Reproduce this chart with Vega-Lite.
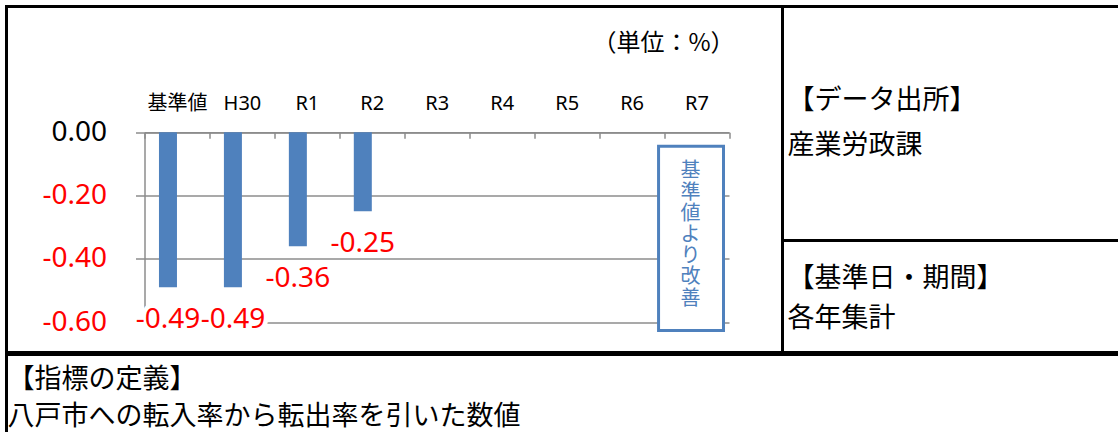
{
  "$schema": "https://vega.github.io/schema/vega-lite/v6.json",
  "padding": {"left": 4.5, "top": 4.5, "right": -12, "bottom": -10},
  "background": "white",
  "spacing": -3,
  "config": {
    "view": {"stroke": "black", "strokeWidth": 3},
    "font": "Noto Sans CJK JP",
    "concat": {"spacing": 0}
  },
  "datasets": {
    "rate": [
      {"year": "基準値", "value": -0.49},
      {"year": "H30", "value": -0.49},
      {"year": "R1", "value": -0.36},
      {"year": "R2", "value": -0.25}
    ],
    "source": [
      {"line": "【データ出所】"},
      {"line": "産業労政課"}
    ],
    "period": [
      {"line": "【基準日・期間】"},
      {"line": "各年集計"}
    ],
    "definition": [
      {"line": "【指標の定義】"},
      {"line": "八戸市への転入率から転出率を引いた数値"}
    ]
  },
  "vconcat": [
    {
      "hconcat": [
        {
          "width": 776,
          "height": 346,
          "title": {"text": "（単位：%）", "anchor": "end", "frame": "group", "orient": "top", "offset": -49, "dx": -48, "fontSize": 24, "fontWeight": "normal", "baseline": "top", "color": "black", "font": "Noto Sans CJK JP"},
          "data": {"name": "rate"},
          "layer": [
            {
              "mark": {"type": "bar", "color": "#4F81BD", "width": 18, "xOffset": -9},
              "encoding": {
                "x": {
                  "field": "year", "type": "nominal",
                  "scale": {"domain": ["基準値", "H30", "R1", "R2", "R3", "R4", "R5", "R6", "R7"], "range": [138, 722.5], "paddingInner": 0, "paddingOuter": 0},
                  "axis": {"orient": "top", "offset": -125.7, "title": null, "domainColor": "#8c8c8c", "domainWidth": 1.5, "tickColor": "#8c8c8c", "tickWidth": 1.5, "tickSize": -6, "tickBand": "extent", "labelAngle": 0, "labelFontSize": 20, "labelColor": "black", "labelFont": "Noto Sans, Noto Sans CJK JP", "labelPadding": 29, "labelBaseline": "alphabetic", "grid": false}
                },
                "y": {
                  "field": "value", "type": "quantitative",
                  "scale": {"domain": [-0.6, 0], "range": [315.7, 125.7], "nice": false, "zero": true},
                  "axis": {"orient": "left", "offset": -138, "title": null, "values": [0, -0.2, -0.4, -0.6], "labelExpr": "replace(format(datum.value, '.2f'), '−', '-')", "labelColor": {"condition": {"test": "datum.value < 0", "value": "#FF0000"}, "value": "black"}, "labelFontSize": 28, "labelFont": "Noto Sans", "labelPadding": 29, "tickSize": 9, "tickColor": "#8c8c8c", "tickWidth": 1.5, "domainColor": "#8c8c8c", "domainWidth": 1.5, "grid": true, "gridColor": "#8c8c8c", "gridWidth": 1.5}
                }
              }
            },
            {
              "mark": {"type": "text", "fontSize": 28, "font": "Noto Sans", "color": "white", "stroke": "white", "strokeWidth": 9, "baseline": "middle", "dy": 33, "xOffset": -9},
              "encoding": {
                "x": {"field": "year", "type": "nominal"},
                "y": {"field": "value", "type": "quantitative"},
                "text": {"field": "value", "type": "nominal"}
              }
            },
            {
              "mark": {"type": "text", "fontSize": 28, "font": "Noto Sans", "color": "#FF0000", "baseline": "middle", "dy": 33, "xOffset": -9},
              "encoding": {
                "x": {"field": "year", "type": "nominal"},
                "y": {"field": "value", "type": "quantitative"},
                "text": {"field": "value", "type": "nominal"}
              }
            },
            {
              "data": {"values": [{"note": "基準値より改善"}]},
              "mark": {"type": "rect", "fill": "white", "stroke": "#4F81BD", "strokeWidth": 3, "xOffset": -5.5},
              "encoding": {
                "x": {"datum": "R7"},
                "y": {"datum": -0.0442},
                "y2": {"datum": -0.626}
              }
            },
            {
              "data": {"values": [{"note": "基準値より改善"}]},
              "mark": {"type": "text", "text": ["基", "準", "値", "よ", "り", "改", "善"], "fontSize": 20, "lineHeight": 21.2, "color": "#4F81BD", "baseline": "top", "align": "center", "xOffset": -6, "font": "Noto Sans CJK JP"},
              "encoding": {
                "x": {"datum": "R7"},
                "y": {"datum": -0.092}
              }
            }
          ]
        },
        {
          "vconcat": [
            {
              "width": 345,
              "height": 234,
              "data": {"name": "source"},
              "mark": {"type": "text", "align": "left", "baseline": "middle", "dx": 5, "fontSize": 27, "color": "black", "font": "Noto Sans CJK JP"},
              "encoding": {
                "x": {"datum": 0, "type": "quantitative", "scale": {"domain": [0, 1]}, "axis": null},
                "y": {"field": "line", "type": "nominal", "sort": null, "scale": {"type": "point", "padding": 0, "range": [94.5, 139.5]}, "axis": null},
                "text": {"field": "line"}
              }
            },
            {
              "width": 345,
              "height": 112,
              "data": {"name": "period"},
              "mark": {"type": "text", "align": "left", "baseline": "middle", "dx": 5, "fontSize": 27, "color": "black", "font": "Noto Sans CJK JP"},
              "encoding": {
                "x": {"datum": 0, "type": "quantitative", "scale": {"domain": [0, 1]}, "axis": null},
                "y": {"field": "line", "type": "nominal", "sort": null, "scale": {"type": "point", "padding": 0, "range": [38, 78]}, "axis": null},
                "text": {"field": "line"}
              }
            }
          ],
          "spacing": 0,
          "bounds": "flush"
        }
      ],
      "spacing": 0,
      "bounds": "flush"
    },
    {
      "width": 1121,
      "height": 85,
      "data": {"name": "definition"},
      "mark": {"type": "text", "align": "left", "baseline": "middle", "dx": 1, "fontSize": 27, "color": "black", "font": "Noto Sans CJK JP"},
      "encoding": {
        "x": {"datum": 0, "type": "quantitative", "scale": {"domain": [0, 1]}, "axis": null},
        "y": {"field": "line", "type": "nominal", "sort": null, "scale": {"type": "point", "padding": 0, "range": [25, 62]}, "axis": null},
        "text": {"field": "line"}
      }
    }
  ]
}
